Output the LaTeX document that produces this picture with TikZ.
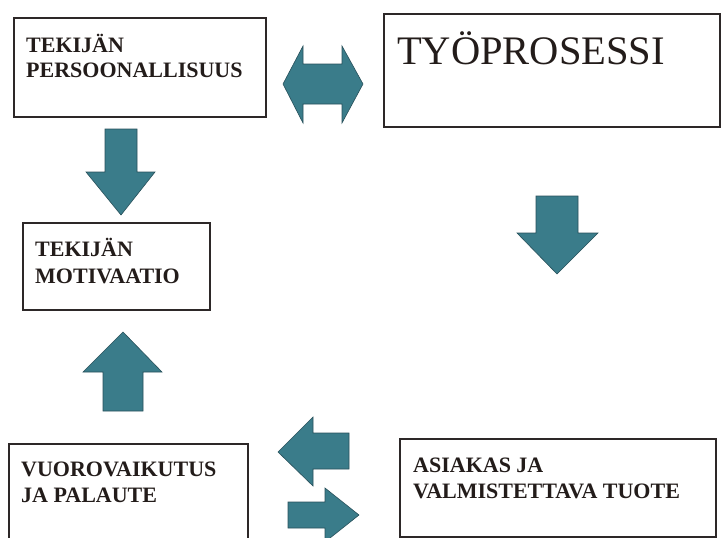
\documentclass[tikz,border=0pt]{standalone}
\usepackage{fontspec}
\setmainfont{Liberation Serif}
\definecolor{teal1}{RGB}{58,124,138}
\definecolor{tealedge}{RGB}{40,80,90}
\definecolor{boxline}{RGB}{45,40,40}
\definecolor{txtcol}{RGB}{35,28,26}
\begin{document}
\begin{tikzpicture}[x=1pt,y=-1pt,
  box/.style={draw=boxline,line width=1.7pt,fill=white,inner sep=0pt,anchor=north west},
  lbl/.style={anchor=base west,inner sep=0pt,text=txtcol,font=\fontsize{22}{25}\selectfont\bfseries},
  bigt/.style={anchor=base west,inner sep=0pt,text=txtcol,font=\fontsize{40.5}{44}\selectfont},
  blk/.style={fill=teal1,draw=tealedge,line width=0.6pt,line join=miter}]
\useasboundingbox (0,0) rectangle (723,538);
\clip (0,0) rectangle (723,538);
% boxes
\node[box,minimum width=252pt,minimum height=99pt] (b1) at (13,17) {};
\node[box,minimum width=336pt,minimum height=113pt] (b2) at (383,13) {};
\node[box,minimum width=187pt,minimum height=87pt] (b3) at (22,222) {};
\node[box,minimum width=239pt,minimum height=110pt] (b4) at (8,443) {};
\node[box,minimum width=316pt,minimum height=98pt] (b5) at (399,438) {};
% texts
\node[lbl] (t1a) at (26,52) {TEKIJÄN};
\node[lbl] (t1b) at (26,77) {PERSOONALLISUUS};
\node[bigt] (t2) at (397,64) {TYÖPROSESSI};
\node[lbl] (t3a) at (35,256) {TEKIJÄN};
\node[lbl] (t3b) at (35,283) {MOTIVAATIO};
\node[lbl] (t4a) at (21,476) {VUOROVAIKUTUS};
\node[lbl] (t4b) at (21,502) {JA PALAUTE};
\node[lbl] (t5a) at (413,472) {ASIAKAS JA};
\node[lbl] (t5b) at (413,498) {VALMISTETTAVA TUOTE};
% double arrow between b1 and b2
\draw[blk] (283,84) -- (303,46) -- (303,64) -- (342,64) -- (342,46) -- (363,84)
  -- (342,123) -- (342,104) -- (303,104) -- (303,123) -- cycle;
% down arrow b1 -> b3
\draw[blk] (105,129) -- (137,129) -- (137,172) -- (155,172) -- (121,215)
  -- (86,172) -- (105,172) -- cycle;
% down arrow under b2
\draw[blk] (536,196) -- (578,196) -- (578,233) -- (598,233) -- (557,274)
  -- (517,233) -- (536,233) -- cycle;
% up arrow b4 -> b3
\draw[blk] (123,332) -- (162,372) -- (143,372) -- (143,411) -- (103,411)
  -- (103,372) -- (83,372) -- cycle;
% left arrow b5 -> b4
\draw[blk] (278,452) -- (313,417) -- (313,433) -- (349,433) -- (349,469)
  -- (313,469) -- (313,486) -- cycle;
% right arrow b4 -> b5
\draw[blk] (288,502) -- (325,502) -- (325,488) -- (359,515) -- (325,542)
  -- (325,528) -- (288,528) -- cycle;
\end{tikzpicture}
\end{document}
